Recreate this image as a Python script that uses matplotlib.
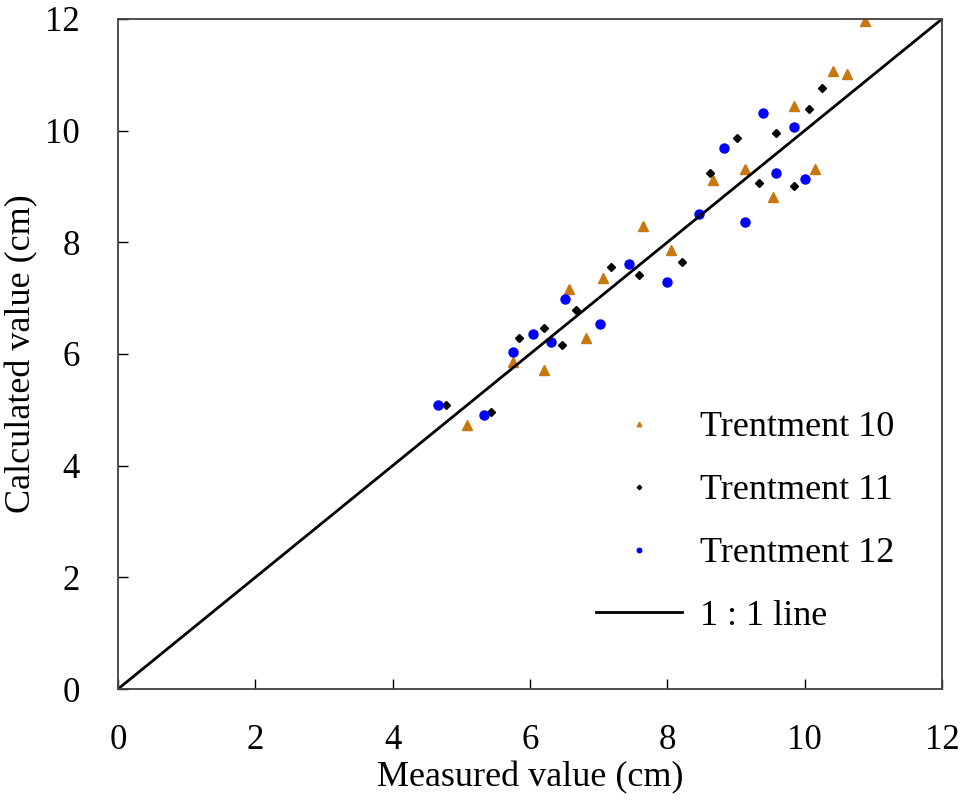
import numpy as np
import matplotlib.pyplot as plt

plt.rcParams['font.family'] = ['Liberation Serif', 'DejaVu Serif']

# Trentment 10
t10_meas = [5.08, 5.75, 6.20, 6.57, 6.82, 7.07, 7.64, 8.05, 8.67, 9.13, 9.54, 9.85, 10.15, 10.41, 10.62, 10.88]
t10_calc = [4.72, 5.85, 5.71, 7.16, 6.28, 7.36, 8.30, 7.86, 9.12, 9.31, 8.81, 10.45, 9.31, 11.07, 11.01, 11.96]
# Trentment 11
t11_meas = [4.77, 5.43, 5.84, 6.20, 6.47, 6.67, 7.18, 7.59, 8.22, 8.62, 9.02, 9.33, 9.59, 9.85, 10.06, 10.26]
t11_calc = [5.09, 4.96, 6.29, 6.47, 6.16, 6.79, 7.55, 7.42, 7.65, 9.25, 9.87, 9.06, 9.95, 9.00, 10.38, 10.77]
# Trentment 12
t12_meas = [4.66, 5.33, 5.75, 6.05, 6.31, 6.51, 7.02, 7.44, 8.00, 8.46, 8.82, 9.13, 9.39, 9.59, 9.85, 10.00]
t12_calc = [5.09, 4.90, 6.04, 6.35, 6.22, 6.98, 6.54, 7.61, 7.29, 8.50, 9.69, 8.36, 10.32, 9.25, 10.07, 9.13]

fig = plt.figure(figsize=(9.68, 8.07), dpi=100)
ax = fig.add_axes([0.1219, 0.1462, 0.8512, 0.8303])

ax.plot(t10_meas, t10_calc, '^', color='#C8760E', markersize=6.5, label='Trentment 10')
ax.plot(t11_meas, t11_calc, 'D', color='black', markersize=4.5, label='Trentment 11')
ax.plot(t12_meas, t12_calc, 'o', color='#0000FF', markersize=6.5, label='Trentment 12')
ax.plot([0, 12], [0, 12], '-', color='black', linewidth=2, label='1 : 1 line')

ax.set_xlim(0, 12)
ax.set_ylim(0, 12)
ax.set_xticks(np.arange(0, 13, 2))
ax.set_yticks(np.arange(0, 13, 2))
ax.tick_params(direction='in', length=7, width=1, labelsize=25)
ax.tick_params(axis='x', pad=25)
ax.tick_params(axis='y', pad=27.5)
for s in ax.spines.values():
    s.set_color('#404040')
    s.set_linewidth(1.3)

ax.set_xlabel('Measured value (cm)', fontsize=26, labelpad=3)
ax.set_ylabel('Calculated value (cm)', fontsize=26, labelpad=5)

leg = ax.legend(loc='lower right', bbox_to_anchor=(0.982, 0.035), frameon=False,
                fontsize=26, markerscale=0.5, handlelength=2.4, labelspacing=0.82,
                handletextpad=0.5)

fig.savefig('out.png', dpi=100)
